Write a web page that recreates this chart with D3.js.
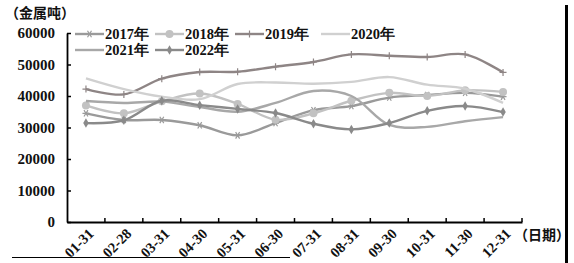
<!DOCTYPE html>
<html>
<head>
<meta charset="utf-8">
<script src="https://cdn.jsdelivr.net/npm/d3@7"></script>
<style>
  body { margin: 0; background: #fff; }
  svg text { font-family: "Liberation Serif", "DejaVu Serif", serif; font-weight: bold; fill: #111; }
  .cjk { font-family: "Noto Sans CJK SC", sans-serif; }
</style>
</head>
<body>
<div id="chart"></div>
<script>
// month-end dates on the x axis
const dates = ["01-31", "02-28", "03-31", "04-30", "05-31", "06-30",
               "07-31", "08-31", "09-30", "10-31", "11-30", "12-31"];
const yTicks = [0, 10000, 20000, 30000, 40000, 50000, 60000];

// values (metal tonnes)
const v2017 = [34500, 32400, 32400, 30700, 27500, 31400, 35500, 36800, 39500, 40300, 41000, 39800];
const v2018 = [37000, 34500, 38300, 40800, 37500, 32500, 34500, 38500, 41000, 40000, 41800, 41300];
const v2019 = [42200, 40500, 45500, 47600, 47700, 49300, 50800, 53200, 52800, 52400, 53200, 47500];
const v2020 = [45600, 42200, 39800, 39000, 43800, 44300, 43900, 44500, 46000, 43600, 42300, 37800];
const v2021 = [38400, 37800, 38200, 36500, 35000, 37800, 41600, 40000, 30800, 30200, 32000, 33300];
const v2022 = [31400, 32300, 38500, 37100, 35900, 34600, 31200, 29400, 31400, 35300, 36800, 34900];

const series = [
  { name: "2017年", values: v2017, color: "#9a9a9a", marker: "star" },
  { name: "2018年", values: v2018, color: "#c2c2c2", marker: "circle" },
  { name: "2019年", values: v2019, color: "#8e8585", marker: "plus" },
  { name: "2020年", values: v2020, color: "#d0d0d0", marker: null },
  { name: "2021年", values: v2021, color: "#a8a8a8", marker: null },
  { name: "2022年", values: v2022, color: "#8a8a8a", marker: "diamond" }
];

const width = 574, height = 263;
const plot = { left: 67, right: 522, top: 33, bottom: 222 };

const svg = d3.select("#chart").append("svg")
  .attr("width", width)
  .attr("height", height);

const x = d3.scaleBand().domain(dates).range([plot.left, plot.right]);
const y = d3.scaleLinear().domain([0, 60000]).range([plot.bottom, plot.top]);
const cx = d => x(d) + x.bandwidth() / 2;

function drawMarker(g, type, color) {
  if (type === "circle") {
    g.append("circle").attr("r", 4).attr("fill", color);
  } else if (type === "diamond") {
    g.append("path").attr("d", d3.symbol(d3.symbolDiamond, 26)()).attr("fill", color);
  } else if (type === "plus") {
    g.append("path").attr("d", "M-3.5,0H3.5M0,-3.5V3.5")
      .attr("stroke", color).attr("stroke-width", 1.2);
  } else if (type === "star") {
    g.append("path").attr("d", "M-3.5,0H3.5M-2,-3.2L2,3.2M2,-3.2L-2,3.2")
      .attr("stroke", color).attr("stroke-width", 1.2);
  }
}

// lines
const line = d3.line()
  .x((d, i) => cx(dates[i]))
  .y(d => y(d))
  .curve(d3.curveCatmullRom.alpha(0.5));

const linesG = svg.append("g");
series.forEach(s => {
  linesG.append("path")
    .attr("d", line(s.values))
    .attr("fill", "none")
    .attr("stroke", s.color)
    .attr("stroke-width", 2.4);
  if (s.marker) {
    s.values.forEach((v, i) => {
      const g = linesG.append("g").attr("transform", `translate(${cx(dates[i])},${y(v)})`);
      drawMarker(g, s.marker, s.color);
    });
  }
});

// axes
const yAxis = svg.append("g")
  .attr("transform", `translate(${plot.left},0)`)
  .call(d3.axisLeft(y).tickValues(yTicks).tickFormat(d3.format("d"))
    .tickSizeInner(-4).tickSizeOuter(0).tickPadding(12));
yAxis.selectAll("text").style("font-size", "15px");

const xAxis = svg.append("g")
  .attr("transform", `translate(0,${plot.bottom})`)
  .call(d3.axisBottom(x).tickSize(0).tickFormat(""));
// ticks on band boundaries, pointing up
xAxis.selectAll(".bnd").data(dates).enter().append("line")
  .attr("x1", d => x(d) + x.bandwidth()).attr("x2", d => x(d) + x.bandwidth())
  .attr("y1", 0).attr("y2", -4).attr("stroke", "#000").attr("stroke-width", 1.5);
xAxis.selectAll(".lbl").data(dates).enter().append("text")
  .attr("transform", d => `translate(${cx(d) + 5},${9}) rotate(-45)`)
  .attr("text-anchor", "end")
  .attr("dy", "0.35em")
  .style("font-size", "14.5px")
  .text(d => d);

svg.selectAll(".domain").attr("stroke", "#000").attr("stroke-width", 1.8);
yAxis.selectAll(".tick line").attr("stroke", "#000").attr("stroke-width", 1.5);

// unit labels
svg.append("text").attr("class", "cjk")
  .attr("x", 5).attr("y", 18)
  .style("font-size", "14px")
  .text("（金属吨）");
svg.append("text").attr("class", "cjk")
  .attr("x", 514).attr("y", 240)
  .style("font-size", "14px")
  .text("（日期）");

// legend
const legendPos = [[75, 34], [155, 34], [235, 34], [321, 34], [75, 50], [155, 50]];
series.forEach((s, i) => {
  const g = svg.append("g").attr("transform", `translate(${legendPos[i][0]},${legendPos[i][1]})`);
  g.append("line").attr("x1", 0).attr("x2", 29).attr("y1", 0).attr("y2", 0)
    .attr("stroke", s.color).attr("stroke-width", 2.4);
  if (s.marker) drawMarker(g.append("g").attr("transform", "translate(14.5,0)"), s.marker, s.color);
  g.append("text").attr("x", 30).attr("y", 0).attr("dy", "0.36em")
    .style("font-size", "14.5px")
    .text(s.name);
});

// frame remnants of the scan
svg.append("rect").attr("x", 565).attr("y", 5).attr("width", 3).attr("height", 258).attr("fill", "#000");
svg.append("line").attr("x1", 12).attr("x2", 290).attr("y1", 257.5).attr("y2", 257.5)
  .attr("stroke", "#000").attr("stroke-width", 1);
</script>
</body>
</html>
